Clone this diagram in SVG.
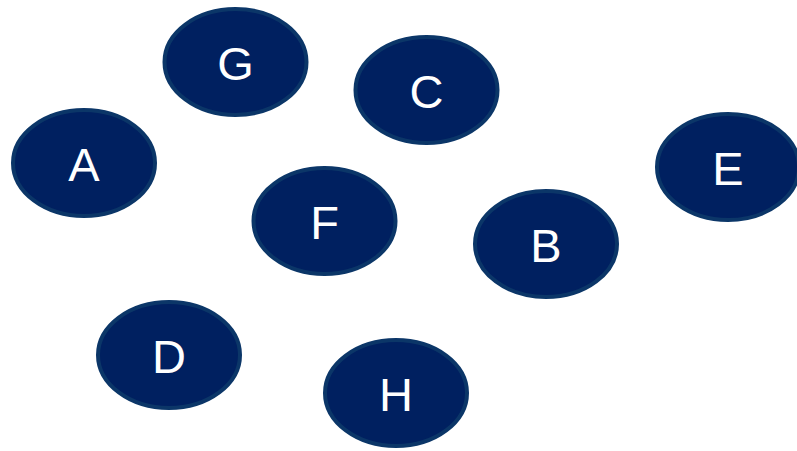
<svg xmlns="http://www.w3.org/2000/svg" width="797" height="451" viewBox="0 0 797 451">
<style>
.n ellipse{fill:#002060;stroke:#0b3668;stroke-width:4}
.n text{fill:#ffffff;font-family:"Liberation Sans",Arial,sans-serif;font-size:47px;text-anchor:middle}
</style>
<rect width="797" height="451" fill="#ffffff"/>
<g id="connectors"></g>
<g id="A" class="n"><ellipse cx="84" cy="163" rx="71" ry="53"/><text x="84" y="181">A</text></g>
<g id="G" class="n"><ellipse cx="235.5" cy="62" rx="71" ry="53"/><text x="235.5" y="80">G</text></g>
<g id="C" class="n"><ellipse cx="426.5" cy="90" rx="71" ry="53"/><text x="426.5" y="108">C</text></g>
<g id="E" class="n"><ellipse cx="728" cy="167" rx="71" ry="53"/><text x="728" y="185">E</text></g>
<g id="F" class="n"><ellipse cx="324.5" cy="221" rx="71" ry="53"/><text x="324.5" y="239">F</text></g>
<g id="B" class="n"><ellipse cx="546" cy="244" rx="71" ry="53"/><text x="546" y="262">B</text></g>
<g id="D" class="n"><ellipse cx="169" cy="355" rx="71" ry="53"/><text x="169" y="373">D</text></g>
<g id="H" class="n"><ellipse cx="396" cy="393" rx="71" ry="53"/><text x="396" y="411">H</text></g>
</svg>
